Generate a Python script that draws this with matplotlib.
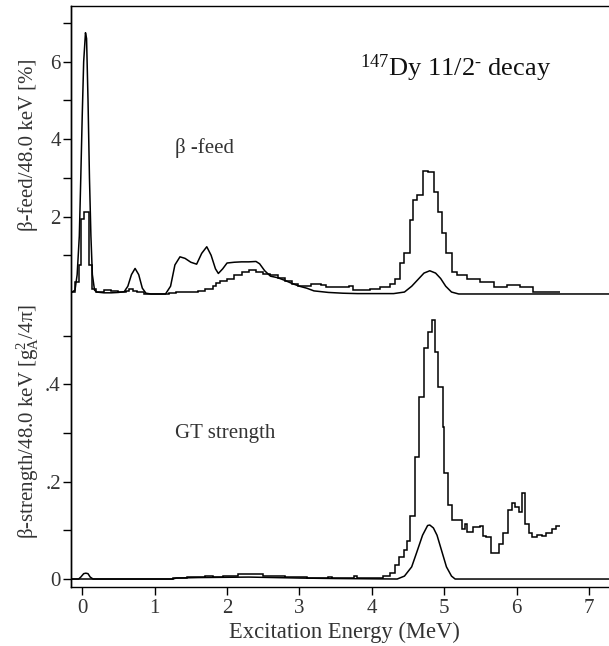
import matplotlib
matplotlib.use("Agg")
import matplotlib.pyplot as plt
import numpy as np

plt.rcParams['font.family'] = ['Liberation Serif', 'DejaVu Serif']
plt.rcParams['mathtext.fontset'] = 'custom'
plt.rcParams['mathtext.rm'] = 'Liberation Serif'
plt.rcParams['mathtext.it'] = 'Liberation Serif:italic'

# ---------------- data ----------------
# top panel: beta-feed [%] per 48 keV
feed_hist_edges = [-0.155, -0.10, -0.05, -0.01, 0.03, 0.10, 0.14, 0.19, 0.30, 0.40, 0.50,
                   0.60, 0.65, 0.70, 0.75, 0.85, 1.20, 1.30, 1.45, 1.60, 1.70, 1.80, 1.85,
                   1.90, 2.00, 2.10, 2.20, 2.30, 2.40, 2.50, 2.60, 2.70, 2.80, 2.90, 2.98,
                   3.16, 3.30, 3.37, 3.53, 3.69, 3.74, 3.97, 4.11, 4.25, 4.32, 4.39, 4.44,
                   4.52, 4.57, 4.63, 4.71, 4.78, 4.86, 4.92, 4.97, 5.03, 5.10, 5.17, 5.31,
                   5.49, 5.68, 5.86, 6.05, 6.23, 6.60]
feed_hist_vals = [0.05, 0.3, 0.75, 1.95, 2.13, 0.75, 0.12, 0.05, 0.10, 0.08,
                  0.06, 0.09, 0.12, 0.09, 0.04, 0.01, 0.03, 0.04, 0.06, 0.09, 0.14, 0.20,
                  0.28, 0.33, 0.40, 0.50, 0.58, 0.62, 0.57, 0.52, 0.48, 0.42, 0.33, 0.25,
                  0.21, 0.26, 0.24, 0.19, 0.17, 0.20, 0.10, 0.13, 0.17, 0.27, 0.40, 0.79,
                  1.05, 1.91, 2.43, 2.56, 3.19, 3.16, 2.64, 2.13, 1.57, 1.05, 0.58, 0.49,
                  0.40, 0.32, 0.17, 0.23, 0.17, 0.06]

feed_calc_E = [-0.155, -0.10, -0.07, -0.04, -0.02, 0.00, 0.02, 0.045, 0.06, 0.08, 0.10,
               0.12, 0.14, 0.17, 0.20, 0.30, 0.40, 0.50, 0.58, 0.63, 0.68, 0.73, 0.78,
               0.83, 0.88, 0.95, 1.15, 1.22, 1.28, 1.35, 1.42, 1.50, 1.58, 1.65, 1.72,
               1.78, 1.84, 1.88, 1.94, 2.00, 2.10, 2.20, 2.30, 2.40, 2.45, 2.52, 2.60,
               2.70, 2.80, 2.90, 3.00, 3.10, 3.20, 3.40, 3.60, 3.80, 4.30, 4.45, 4.55,
               4.65, 4.72, 4.80, 4.88, 4.95, 5.02, 5.10, 5.20, 7.30]
feed_calc_v = [0.03, 0.10, 0.50, 1.50, 3.00, 4.60, 6.00, 6.75, 6.60, 5.00, 3.00,
               1.50, 0.50, 0.10, 0.05, 0.03, 0.03, 0.04, 0.06, 0.20, 0.50, 0.66, 0.50,
               0.15, 0.02, 0.00, 0.00, 0.20, 0.75, 0.96, 0.92, 0.82, 0.77, 1.05, 1.22,
               1.00, 0.65, 0.53, 0.65, 0.80, 0.82, 0.83, 0.83, 0.84, 0.78, 0.60, 0.46,
               0.42, 0.35, 0.27, 0.20, 0.15, 0.08, 0.04, 0.02, 0.01, 0.01, 0.05, 0.20,
               0.40, 0.54, 0.60, 0.54, 0.40, 0.20, 0.05, 0.00, 0.00]

# bottom panel: GT strength per 48 keV [gA^2/4pi]
gt_hist_edges = [-0.155, 1.25, 1.45, 1.70, 1.80, 1.95, 2.15, 2.50, 2.80, 3.10, 3.40, 3.45,
                 3.75, 3.80, 4.15, 4.25, 4.32, 4.37, 4.44, 4.48, 4.52, 4.59, 4.65, 4.72,
                 4.78, 4.83, 4.87, 4.92, 4.98, 5.00, 5.05, 5.10, 5.25, 5.28, 5.32, 5.39,
                 5.49, 5.54, 5.58, 5.65, 5.75, 5.81, 5.88, 5.94, 5.98, 6.03, 6.08, 6.12,
                 6.17, 6.21, 6.28, 6.35, 6.40, 6.45, 6.49, 6.54, 6.60]
gt_hist_vals = [0.0, 0.003, 0.005, 0.007, 0.005, 0.007, 0.010, 0.007, 0.005, 0.003, 0.005,
                0.003, 0.006, 0.003, 0.006, 0.013, 0.029, 0.046, 0.060, 0.079, 0.130,
                0.251, 0.375, 0.474, 0.508, 0.532, 0.467, 0.395, 0.313, 0.217, 0.152,
                0.121, 0.102, 0.113, 0.096, 0.106, 0.108, 0.089, 0.086, 0.053, 0.072,
                0.095, 0.142, 0.156, 0.149, 0.138, 0.176, 0.114, 0.094, 0.086, 0.090,
                0.088, 0.095, 0.094, 0.102, 0.109]

gt_calc_E = [-0.155, -0.05, -0.02, 0.02, 0.05, 0.08, 0.11, 0.15, 1.25, 1.30, 1.60, 2.30,
             3.00, 3.50, 4.35, 4.45, 4.55, 4.62, 4.70, 4.77, 4.80, 4.85, 4.90, 4.97,
             5.03, 5.10, 5.15, 7.30]
gt_calc_v = [0.0, 0.0, 0.004, 0.011, 0.012, 0.011, 0.004, 0.0, 0.0, 0.002, 0.003, 0.004,
             0.002, 0.001, 0.0, 0.006, 0.025, 0.055, 0.090, 0.110, 0.111, 0.105, 0.090,
             0.055, 0.025, 0.006, 0.0, 0.0]

x_ticks = [0, 1, 2, 3, 4, 5, 6, 7]
feed_ticks = [2, 4, 6]
feed_minor = [1, 3, 5, 7]
gt_ticks = [0, 0.2, 0.4]
gt_tick_labels = ['0', '.2', '.4']
gt_minor = [0.1, 0.3, 0.5]

# ---------------- figure ----------------
W, H = 609, 646
fig = plt.figure(figsize=(W / 100, H / 100), dpi=100)
left, right, top, bottom = 71, 609, 6, 587
rect = [left / W, 1 - bottom / H, (right - left) / W, (bottom - top) / H]

tc = '#333333'
lw = 1.1

ax = fig.add_axes(rect)
ax.set_xlim(-0.155, 7.275)
ax.set_ylim(-0.0164, 1.178)
ax.spines['right'].set_visible(False)
for s in ['left', 'bottom', 'top']:
    ax.spines[s].set_linewidth(1.0)
ax.set_xticks(x_ticks)
ax.set_yticks(gt_ticks)
ax.set_yticklabels(gt_tick_labels)
ax.set_yticks(gt_minor, minor=True)
ax.tick_params(axis='both', which='both', direction='out', length=5.8, width=1.0,
               labelsize=15, colors='black', labelcolor=tc, pad=1.5)
ax.tick_params(axis='x', pad=3)

ax.stairs(gt_hist_vals, gt_hist_edges, color='black', lw=lw, baseline=None)
ax.plot(gt_calc_E, gt_calc_v, color='black', lw=lw)

ax2 = fig.add_axes(rect, sharex=ax)
ax2.patch.set_visible(False)
for s in ax2.spines.values():
    s.set_visible(False)
ax2.set_ylim(-7.57, 7.44)
ax2.set_yticks(feed_ticks)
ax2.set_yticks(feed_minor, minor=True)
ax2.tick_params(axis='y', which='both', direction='out', length=5.8, width=1.0,
                labelsize=15, colors='black', labelcolor=tc, pad=1.5)
ax2.tick_params(axis='x', which='both', bottom=False, labelbottom=False)
ax2.spines['left'].set_visible(True)
ax2.spines['left'].set_linewidth(1.0)

ax2.stairs(feed_hist_vals, feed_hist_edges, color='black', lw=lw, baseline=None)
ax2.plot(feed_calc_E, feed_calc_v, color='black', lw=lw)

# texts
fig.text(28 / W, 1 - 145 / H, 'β-feed/48.0 keV [%]', rotation=90, ha='center', va='center',
         fontsize=15, color=tc)
fig.text(28 / W, 1 - 421 / H, r'β-strength/48.0 keV [$\mathrm{g}_{\mathrm{A}}^{2}$/4π]',
         rotation=90, ha='center', va='center', fontsize=15, color=tc)
fig.text(344 / W, 8 / H, 'Excitation Energy (MeV)', ha='center', va='baseline',
         fontsize=16.3, color=tc)
fig.text(360 / W, 1 - 76 / H, r'$^{147}$Dy 11/2$^{\text{-}}$ decay', ha='left', va='baseline',
         fontsize=19, color='#111111')
fig.text(175 / W, 1 - 153 / H, 'β -feed', ha='left', va='baseline', fontsize=15, color=tc)
fig.text(175 / W, 1 - 438 / H, 'GT strength', ha='left', va='baseline', fontsize=15, color=tc)

fig.savefig('out.png', dpi=100)
